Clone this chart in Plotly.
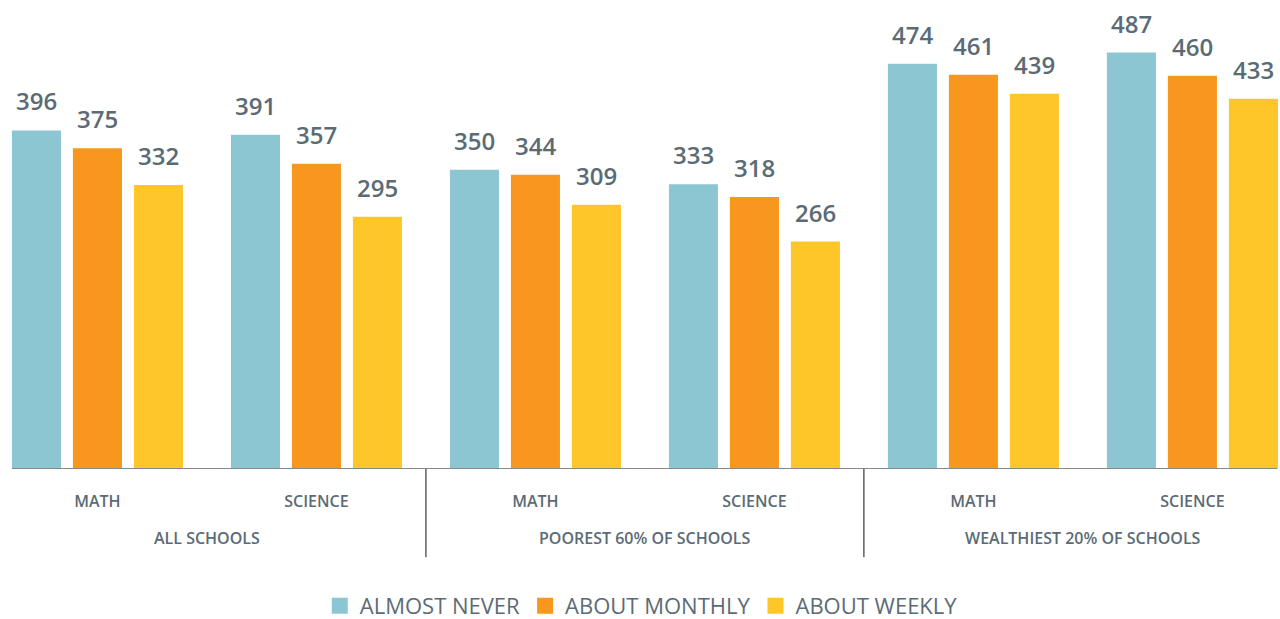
import plotly.graph_objects as go

subjects = ["MATH", "SCIENCE", "MATH", "SCIENCE", "MATH", "SCIENCE"]
schools = ["ALL SCHOOLS", "POOREST 60% OF SCHOOLS", "WEALTHIEST 20% OF SCHOOLS"]
series_names = ["ALMOST NEVER", "ABOUT MONTHLY", "ABOUT WEEKLY"]
almost_never = [396, 391, 350, 333, 474, 487]
about_monthly = [375, 357, 344, 318, 461, 460]
about_weekly = [332, 295, 309, 266, 439, 433]
colors = ["#8CC6D3", "#F7971E", "#FFC629"]

text_col = "#5B6B75"
font = "Open Sans"
xs = list(range(len(subjects)))
bar_w = 0.224   # width of one bar, in category units
step = 0.2785   # distance between bar centres inside a group

fig = go.Figure()
for k, (name, vals, c) in enumerate(zip(series_names, [almost_never, about_monthly, about_weekly], colors)):
    off = (k - 1) * step
    fig.add_trace(go.Bar(
        x=xs, y=vals, name=name, marker_color=c, marker_line_width=0,
        width=bar_w, offset=off - bar_w / 2, showlegend=False,
    ))
    # value labels
    for i, v in zip(xs, vals):
        fig.add_annotation(x=i + off, y=v, xref="x", yref="y", text=str(v),
                           showarrow=False, yanchor="bottom", yshift=11,
                           font=dict(family=font, size=24, color=text_col, weight=600))
    # legend swatch
    fig.add_trace(go.Scatter(
        x=[None], y=[None], mode="markers", name=name,
        marker=dict(symbol="square", size=20, color=c),
    ))

# baseline
fig.add_shape(type="line", xref="x", yref="y", x0=-0.39, x1=5.386, y0=0, y1=0,
              line=dict(color="#888888", width=2))
# separators between school groups
for xv in [1.5, 3.5]:
    fig.add_shape(type="line", xref="x", yref="paper", x0=xv, x1=xv, y0=0, y1=-0.188,
                  line=dict(color="#111111", width=1))
for i, s in enumerate(schools):
    fig.add_annotation(x=2 * i + 0.5, y=-0.147, xref="x", yref="paper", text=s,
                       showarrow=False, yanchor="middle",
                       font=dict(family=font, size=16, color=text_col, weight=600))

fig.update_layout(
    width=1280, height=619,
    margin=dict(l=0, r=0, t=0, b=150, autoexpand=False),
    paper_bgcolor="white", plot_bgcolor="white",
    showlegend=True,
    legend=dict(orientation="h", x=0.501, xanchor="center", y=-0.292, yanchor="middle",
                font=dict(family=font, size=22, color=text_col), itemwidth=30,
                traceorder="normal"),
    xaxis=dict(range=[-0.445, 5.4], tickvals=xs, ticktext=subjects, showgrid=False,
               zeroline=False, showline=False, ticks="", automargin=False,
               ticklabelstandoff=21,
               tickfont=dict(family=font, size=16, color=text_col, weight=600)),
    yaxis=dict(range=[0, 548.5], visible=False, showgrid=False, zeroline=False,
               automargin=False),
)

fig.write_html("out.html", config={"displayModeBar": False},
               post_script="document.body.style.margin='0';")
